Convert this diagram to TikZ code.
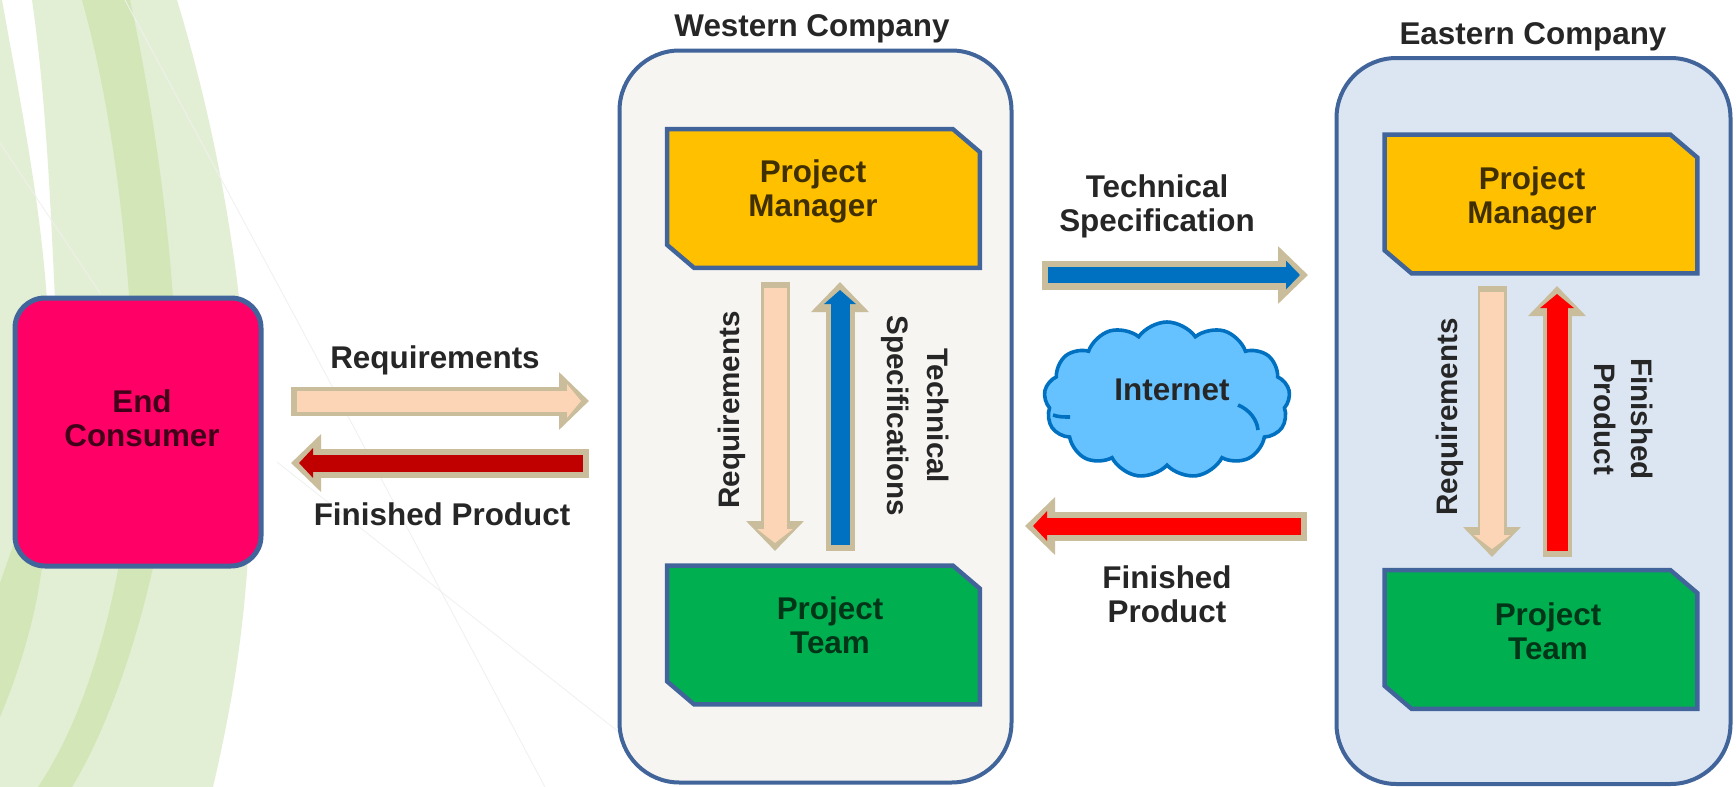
\documentclass[tikz,border=0pt]{standalone}
\usepackage{fontspec}
\setmainfont{Liberation Sans}
\usetikzlibrary{arrows.meta,shapes.symbols}
\definecolor{swooshlight}{HTML}{E3EFD5}
\definecolor{swooshmid}{HTML}{D2E6B8}
\definecolor{boxline}{HTML}{41659A}
\definecolor{arrowtan}{HTML}{C9BD9B}
\definecolor{peach}{HTML}{FBD5B5}
\definecolor{consumer}{HTML}{FF0066}
\definecolor{manager}{HTML}{FFC000}
\definecolor{team}{HTML}{00B050}
\definecolor{specblue}{HTML}{0070C0}
\definecolor{darkred}{HTML}{C00000}
\definecolor{cloudfill}{HTML}{66C2FF}
\definecolor{westfill}{HTML}{F6F5F2}
\definecolor{eastfill}{HTML}{DCE6F2}
\begin{document}
\begin{tikzpicture}[
    x=0.5pt, y=-0.5pt,
    company/.style={rectangle, rounded corners=30pt, draw=boxline, line width=2pt,
        minimum width=196pt, minimum height=366pt, inner sep=0pt},
    role/.style={rectangle, minimum width=156pt, minimum height=69pt, inner sep=0pt},
    snipped/.style={draw=boxline, line width=2.2pt},
    lbl/.style={inner sep=0pt, align=center, text=black!85,
        font=\fontsize{15.7}{17}\selectfont\bfseries},
    vlbl/.style={inner sep=0pt, align=center, text=black!85,
        font=\fontsize{14.8}{17}\selectfont\bfseries},
    flow/.style n args={2}{line width=#2, draw=#1, shorten >=4pt, shorten <=3pt,
        -{Triangle[length=7pt, width=#2+6pt]},
        preaction={draw=arrowtan, line width=14.5pt, shorten >=0pt, shorten <=0pt,
            -{Triangle[length=15pt, width=28pt]}}}
]
    \useasboundingbox (0,0) rectangle (1736,787);
    \fill[white] (0,0) rectangle (1736,787);
    \fill[swooshlight] (0,0) -- (2,0) .. controls (20,100) and (40,200) .. (47,300)
        -- (55,300) .. controls (50,190) and (45,90) .. (32,0)
        -- (177,0) .. controls (215,125) and (240,260) .. (248,400)
        .. controls (255,540) and (245,650) .. (213,787) -- (0,787) -- cycle;
    \fill[swooshmid] (82,0) .. controls (110,100) and (130,240) .. (134,400)
        .. controls (136,500) and (110,680) .. (38,787) -- (72,787)
        .. controls (125,700) and (170,540) .. (176,400)
        .. controls (178,260) and (150,90) .. (130,0) -- cycle;
    \fill[swooshmid] (44,540) .. controls (42,600) and (20,670) .. (0,717)
        -- (0,583) -- (15,540) -- cycle;
    \draw[black!6, line width=0.4pt] (0,143) -- (100,293);
    \draw[black!6, line width=0.4pt] (125,0) -- (300,326) -- (545,787);
    \draw[black!6, line width=0.4pt] (277,462) -- (620,733);

    \node[rectangle, rounded corners=15pt, draw=boxline, line width=2.5pt, fill=consumer,
        minimum width=123pt, minimum height=134pt, inner sep=0pt] (endbox) at (138,432) {};
    \node[company, fill=westfill] (western) at (815.5,416.5) {};
    \node[company, fill=eastfill, minimum width=197pt, minimum height=363pt] (eastern) at (1533.5,421) {};
    \node[role] (wmanager) at (823.5,198.5) {};
    \node[role] (wteam) at (823.5,635) {};
    \node[role] (emanager) at (1541,204) {};
    \node[role] (eteam) at (1541,639.5) {};
    \foreach \rolebox/\rolefill in {wmanager/manager, wteam/team, emanager/manager, eteam/team}
        \draw[snipped, fill=\rolefill] (\rolebox.north west) -- ([xshift=-13.5pt]\rolebox.north east)
            -- ([yshift=-11.5pt]\rolebox.north east) -- (\rolebox.south east)
            -- ([xshift=13.5pt]\rolebox.south west) -- ([yshift=11.5pt]\rolebox.south west) -- cycle;
    \node[cloud, cloud puffs=13, cloud puff arc=110, aspect=1.55, draw=specblue, line width=1.8pt,
        fill=cloudfill, minimum width=123pt, minimum height=78pt, inner sep=0pt] (internet) at (1167,400) {};
    \draw[specblue, line width=1.8pt] (1238,405) .. controls (1250,410) and (1257,420) .. (1258,430);
    \draw[specblue, line width=1.8pt] (1053,415) .. controls (1058,417) and (1064,417) .. (1070,417);

    \node[lbl, text=consumer!25!black] (tend) at (142,418) {End\\Consumer};
    \node[lbl] (twestern) at (812,29) {Western Company};
    \node[lbl] (teastern) at (1533,37) {Eastern Company};
    \node[lbl, text=manager!25!black] (twmanager) at (813,191) {Project\\Manager};
    \node[lbl, text=team!30!black] (twteam) at (830,625) {Project\\Team};
    \node[lbl, text=manager!25!black] (temanager) at (1532,198) {Project\\Manager};
    \node[lbl, text=team!30!black] (teteam) at (1548,631) {Project\\Team};
    \node[lbl] (tinternet) at (1172,390) {Internet};
    \node[lbl] (treqa) at (435,360) {Requirements};
    \node[lbl] (tfina) at (442,514) {Finished Product};
    \node[lbl] (tspecb) at (1157,206) {Technical\\Specification};
    \node[lbl] (tfinb) at (1167,594) {Finished\\Product};
    \node[vlbl, rotate=90] (treqb) at (732,410) {Requirements};
    \node[vlbl, rotate=-90] (tspeca) at (915,416) {Technical\\[3pt]Specifications};
    \node[vlbl, rotate=90] (treqc) at (1450,417) {Requirements};
    \node[vlbl, rotate=-90] (tfinc) at (1624,419) {Finished\\[1.5pt]Product};

    \coordinate (reqa1) at (291,401);
    \coordinate (reqa2) at (589,401);
    \coordinate (fina1) at (589,463);
    \coordinate (fina2) at (291,463);
    \coordinate (reqb1) at (775,282);
    \coordinate (reqb2) at (775,551);
    \coordinate (speca1) at (840,551);
    \coordinate (speca2) at (840,282);
    \coordinate (specb1) at (1042,275);
    \coordinate (specb2) at (1308,275);
    \coordinate (finb1) at (1307,526);
    \coordinate (finb2) at (1025,526);
    \coordinate (reqc1) at (1492,286);
    \coordinate (reqc2) at (1492,557);
    \coordinate (finc1) at (1557,557);
    \coordinate (finc2) at (1557,286);

    \draw[flow={peach}{10.5pt}] (reqa1) -- (reqa2);
    \draw[flow={darkred}{8.5pt}] (fina1) -- (fina2);
    \draw[flow={peach}{11.5pt}] (reqb1) -- (reqb2);
    \draw[flow={specblue}{9.5pt}] (speca1) -- (speca2);
    \draw[flow={specblue}{8pt}] (specb1) -- (specb2);
    \draw[flow={red}{8.5pt}] (finb1) -- (finb2);
    \draw[flow={peach}{12pt}] (reqc1) -- (reqc2);
    \draw[flow={red}{10.5pt}] (finc1) -- (finc2);
\end{tikzpicture}
\end{document}
